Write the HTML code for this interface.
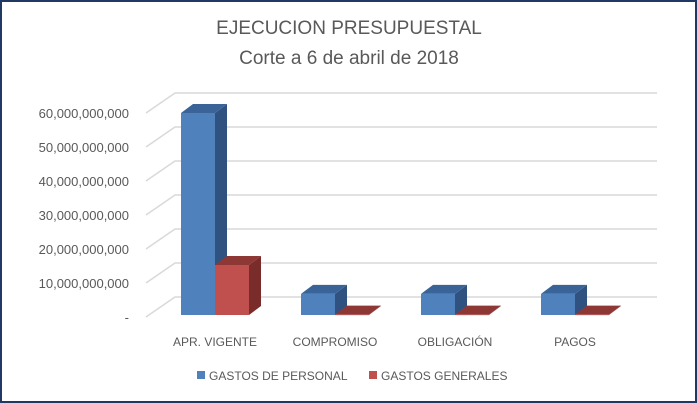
<!DOCTYPE html>
<html><head><meta charset="utf-8"><style>
body{margin:0;background:#fff}
svg{display:block;font-family:"Liberation Sans",sans-serif}
</style></head><body>
<svg id="c" width="697" height="403">
<rect x="1" y="1" width="695" height="401" fill="#fff" stroke="#1f3864" stroke-width="2"/>
<text x="349" y="34" text-anchor="middle" font-size="19" fill="#595959">EJECUCION PRESUPUESTAL</text>
<text x="349" y="64" text-anchor="middle" font-size="19" fill="#595959">Corte a 6 de abril de 2018</text>
<g id="grid"></g><g id="bars"></g><g id="labels"></g>
<rect x="197" y="371" width="8" height="8" fill="#4f81bd"/>
<text x="209" y="380" font-size="12" fill="#595959">GASTOS DE PERSONAL</text>
<rect x="369" y="371" width="8" height="8" fill="#c0504d"/>
<text x="381" y="380" font-size="12" fill="#595959">GASTOS GENERALES</text>
</svg>
<script>
const categories=["APR. VIGENTE","COMPROMISO","OBLIGACIÓN","PAGOS"];
const personal=[59.4e9,6.2e9,6.2e9,6.2e9];
const generales=[14.7e9,0.1e9,0.1e9,0.1e9];
const ticks=[0,10e9,20e9,30e9,40e9,50e9,60e9];
const tickLabels=["-","10,000,000,000","20,000,000,000","30,000,000,000","40,000,000,000","50,000,000,000","60,000,000,000"];
const NS="http://www.w3.org/2000/svg";
const floorY=315, pxPerUnit=202/59.4e9, wallX0=175, wallX1=657, frontX=146, dxW=29, dyW=-20;
function y(v){return floorY-v*pxPerUnit;}
function mk(t,a,p){const e=document.createElementNS(NS,t);for(const k in a)e.setAttribute(k,a[k]);p.appendChild(e);return e;}
const g=document.getElementById('grid'),b=document.getElementById('bars'),l=document.getElementById('labels');
ticks.forEach((t,i)=>{
 const fy=y(t)+2;
 const ln=mk('polyline',{points:`${frontX},${fy} ${frontX+dxW},${fy+dyW} ${wallX1},${fy+dyW}`,fill:'none',stroke:'#d9d9d9','stroke-width':1.5},g);
 
 
 const tx=mk('text',{x:129,y:fy+5,'text-anchor':'end','font-size':13,fill:'#595959'},l);
 tx.textContent=tickLabels[i];
 
 
});
const step=120,x0=181,w=34,dx=12,dy=-9;
function bar(x,v,c1,c2,c3,name){
 const top=y(v);
 const gg=mk('g',{},b);
 
 
 mk('polygon',{points:`${x+w},${floorY} ${x+w+dx},${floorY+dy} ${x+w+dx},${top+dy} ${x+w},${top}`,fill:c2},gg);
 mk('polygon',{points:`${x},${top} ${x+dx},${top+dy} ${x+w+dx},${top+dy} ${x+w},${top}`,fill:c3},gg);
 mk('rect',{x:x,y:top,width:w,height:Math.max(floorY-top,0.5),fill:c1},gg);
}
categories.forEach((c,i)=>{
 const x=x0+i*step;
 bar(x,personal[i],'#4f81bd','#2f5280','#3a6397','bar-personal-'+i);
 bar(x+w,generales[i],'#c0504d','#7a2c2a','#8e3836','bar-generales-'+i);
 const t=mk('text',{x:x+w,y:346,'text-anchor':'middle','font-size':12,fill:'#595959'},l);
 t.textContent=c;
 
 
});
</script>
</body></html>
